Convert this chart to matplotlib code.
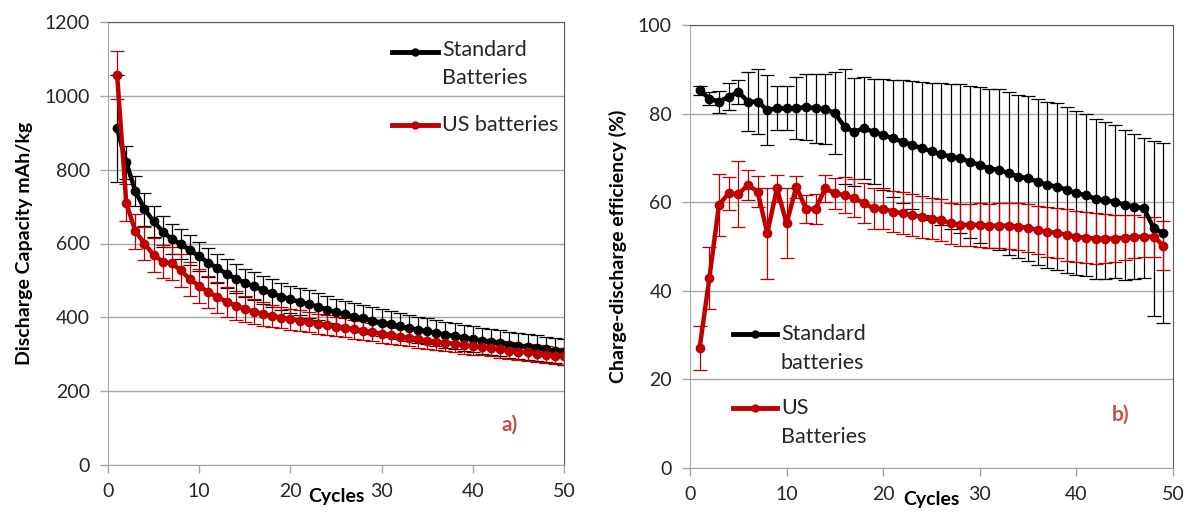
import matplotlib
matplotlib.use('Agg')
import matplotlib.pyplot as plt

plt.rcParams['font.family'] = ['Lato', 'DejaVu Sans']

# panel a) discharge capacity
cycles_a = list(range(1, 51))
std_cap = [912, 820, 742, 693, 660, 632, 612, 598, 582, 565,
           548, 533, 518, 505, 494, 484, 474, 465, 456, 449,
           442, 436, 429, 421, 414, 408, 402, 397, 391, 386,
           381, 376, 371, 366, 362, 358, 353, 349, 345, 341,
           337, 333, 330, 326, 323, 319, 316, 313, 310, 307]
std_cap_err = [145, 45, 40, 45, 42, 42, 40, 40, 40, 40,
               40, 39, 39, 39, 38, 38, 38, 38, 37, 37,
               37, 37, 37, 36, 36, 36, 36, 36, 36, 36,
               35, 35, 35, 35, 35, 35, 35, 35, 35, 35,
               35, 35, 35, 35, 35, 35, 35, 35, 35, 35]
us_cap = [1057, 710, 633, 600, 569, 551, 546, 527, 503, 485,
          468, 455, 442, 432, 423, 415, 409, 404, 399, 395,
          391, 387, 383, 379, 375, 372, 368, 364, 360, 356,
          352, 348, 345, 341, 337, 334, 331, 328, 325, 322,
          319, 316, 313, 310, 307, 305, 302, 299, 296, 294]
us_cap_err = [65, 50, 48, 45, 45, 45, 45, 45, 46, 46,
              44, 42, 40, 38, 36, 34, 32, 30, 29, 28,
              28, 27, 27, 27, 26, 26, 26, 25, 25, 25,
              25, 24, 24, 24, 24, 23, 23, 23, 23, 23,
              22, 22, 22, 22, 22, 22, 22, 22, 22, 22]

# panel b) charge-discharge efficiency
cycles_b = list(range(1, 50))
std_eff = [85.3, 83.4, 82.7, 83.8, 84.9, 82.7, 82.7, 80.8, 81.2, 81.2,
           81.2, 81.5, 81.2, 81.0, 80.1, 77.0, 75.9, 76.7, 75.9, 75.2,
           74.4, 73.7, 72.9, 72.2, 71.5, 70.8, 70.3, 69.9, 69.1, 68.4,
           67.6, 67.3, 66.5, 65.8, 65.4, 64.6, 63.9, 63.5, 62.8, 62.0,
           61.6, 60.7, 60.4, 60.1, 59.4, 59.0, 58.6, 54.1, 53.0]
std_eff_err = [1, 1.5, 2.5, 3, 2.7, 6.7, 7.3, 8, 5, 5,
               7, 7.5, 7.8, 7.9, 9.2, 13, 12.2, 11.5, 11.8, 12.5,
               13.2, 13.8, 14.4, 15, 15.5, 16, 16.4, 16.8, 17.2, 17.6,
               18, 18.2, 18.4, 18.5, 18.6, 18.7, 18.8, 18.8, 18.7, 18.5,
               18.3, 18.0, 17.7, 17.3, 16.9, 16.4, 15.8, 19.7, 20.3]
us_eff = [27.1, 42.8, 59.4, 62.0, 61.8, 63.9, 62.4, 53.0, 63.1, 55.2,
          63.5, 58.5, 58.5, 63.1, 62.0, 61.6, 60.9, 59.8, 58.6, 58.5,
          57.9, 57.5, 57.1, 56.7, 56.3, 56.0, 55.2, 54.9, 54.9, 54.9,
          54.7, 54.7, 54.7, 54.5, 54.2, 53.7, 53.3, 53.1, 52.6, 52.2,
          52.0, 51.8, 51.8, 51.8, 52.0, 52.2, 52.2, 52.2, 50.2]
us_eff_err = [5, 7, 7, 3.8, 7.5, 3.3, 3.5, 10.3, 3, 7.9,
              2.5, 3.2, 3.4, 3, 3.5, 4, 4.3, 4.5, 4.6, 4.6,
              4.7, 4.7, 4.7, 4.7, 4.7, 4.7, 4.7, 4.7, 4.8, 4.9,
              5.0, 5.1, 5.2, 5.3, 5.4, 5.5, 5.6, 5.7, 5.8, 5.8,
              5.8, 5.7, 5.5, 5.3, 5.0, 4.8, 4.5, 4.5, 5.5]

BLACK = '#000000'
RED = '#c00000'
LABEL_RED = '#c0504d'
GRID = '#a6a6a6'
FRAME = '#595959'

fig = plt.figure(figsize=(11.91, 5.20), dpi=100)
ax1 = fig.add_axes([108 / 1191, 55 / 520, 456 / 1191, 443 / 520])
ax2 = fig.add_axes([690 / 1191, 52 / 520, 483 / 1191, 443 / 520])


def style_axes(ax):
    ax.grid(axis='y', color=GRID, lw=1)
    ax.set_axisbelow(True)
    for side in ['left', 'bottom']:
        ax.spines[side].set_color(GRID)
    for side in ['top', 'right']:
        ax.spines[side].set_color(FRAME)
    ax.tick_params(direction='out', length=6, width=1, color=GRID,
                   labelsize=14, labelcolor='#262626', pad=7)


def draw_series(ax, x, y, err, color):
    ax.errorbar(x, y, yerr=err, color=color, lw=3.2, marker='o', ms=6,
                ecolor=color, elinewidth=0.9, capsize=5, capthick=0.9)


def legend_entry(ax, x0, x1, y, color, label, ty):
    ax.plot([x0, (x0 + x1) / 2, x1], [y, y, y], color=color, lw=3.5,
            marker='o', ms=5, markevery=[1], transform=ax.transAxes,
            clip_on=False)
    ax.text(x1 + 0.008, ty, label, transform=ax.transAxes, ha='left',
            va='center', fontsize=15.5, color='#262626', linespacing=1.55)


# ---- panel a
style_axes(ax1)
draw_series(ax1, cycles_a, std_cap, std_cap_err, BLACK)
draw_series(ax1, cycles_a, us_cap, us_cap_err, RED)
ax1.set_xlim(0, 50)
ax1.set_ylim(0, 1200)
ax1.set_xticks(range(0, 51, 10))
ax1.set_yticks(range(0, 1201, 200))
ax1.set_ylabel('Discharge Capacity mAh/kg', fontsize=14, fontweight='bold',
               labelpad=8)
ax1.set_xlabel('Cycles', fontsize=14, fontweight='bold', labelpad=-9)
ax1.text(44, 108, 'a)', color=LABEL_RED, fontsize=15, fontweight='bold',
         ha='center', va='center')
legend_entry(ax1, 0.623, 0.724, 0.932, BLACK, 'Standard\nBatteries', 0.905)
legend_entry(ax1, 0.623, 0.724, 0.767, RED, 'US batteries', 0.767)

# ---- panel b
style_axes(ax2)
draw_series(ax2, cycles_b, std_eff, std_eff_err, BLACK)
draw_series(ax2, cycles_b, us_eff, us_eff_err, RED)
ax2.set_xlim(0, 50)
ax2.set_ylim(0, 100)
ax2.set_xticks(range(0, 51, 10))
ax2.set_yticks(range(0, 101, 20))
ax2.set_ylabel('Charge-discharge efficiency (%)', fontsize=14,
               fontweight='bold', labelpad=8)
ax2.set_xlabel('Cycles', fontsize=14, fontweight='bold', labelpad=-9)
ax2.text(44.6, 12, 'b)', color=LABEL_RED, fontsize=15, fontweight='bold',
         ha='center', va='center')
legend_entry(ax2, 0.089, 0.180, 0.302, BLACK, 'Standard\nbatteries', 0.270)
legend_entry(ax2, 0.089, 0.180, 0.135, RED, 'US\nBatteries', 0.103)

fig.savefig('out.png', dpi=100)
